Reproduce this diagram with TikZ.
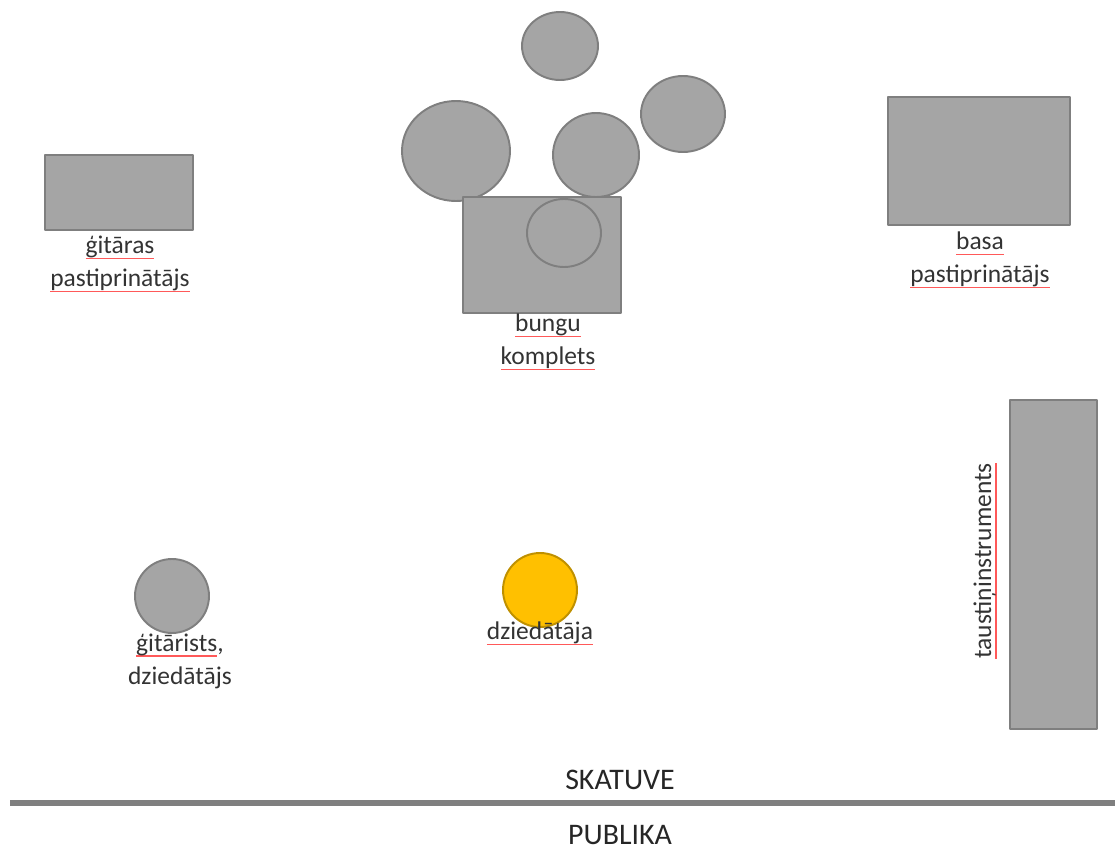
\documentclass[tikz,border=0pt]{standalone}
\usepackage{fontspec}
\setmainfont{Carlito}

\definecolor{propfill}{HTML}{A5A5A5}
\definecolor{propline}{HTML}{7F7F7F}
\definecolor{singfill}{HTML}{FFC000}
\definecolor{singline}{HTML}{BF9000}

% red spell-check style underline
\newcommand\spl[1]{\setbox0\hbox{#1}\rlap{\textcolor{red!65}{\rule[-0.45ex]{\wd0}{0.6pt}}}\box0}

\begin{document}
\begin{tikzpicture}[x=0.2mm,y=-0.2mm,line join=round]

    \tikzset{
        prop/.style={fill=propfill,draw=propline,line width=1.1pt},
        singer/.style={fill=singfill,draw=singline,line width=1.1pt},
        lbl/.style={align=center,text=black!80,font=\fontsize{14.5}{18.8}\selectfont},
        side/.style={text=black!85,font=\fontsize{17}{20}\selectfont}
    }

    \useasboundingbox (0,0) rectangle (1115,854);

    % guitar amp
    \filldraw[prop] (45,155) rectangle (193,230);
    \node[lbl] (gtramp) at (120,264) {\spl{ģitāras}\\ \spl{pastiprinātājs}};

    % drum kit
    \filldraw[prop] (560,46) ellipse (38 and 34);
    \filldraw[prop] (456,151) ellipse (54 and 50);
    \filldraw[prop] (596,155) ellipse (43 and 42);
    \filldraw[prop] (683,114) ellipse (42 and 38);
    \filldraw[prop] (463,197) rectangle (621,313);
    \filldraw[prop] (564,233) ellipse (37 and 34);
    \node[lbl] (drums) at (548,342) {\spl{bungu}\\ \spl{komplets}};

    % bass amp
    \filldraw[prop] (888,97) rectangle (1070,225);
    \node[lbl] (bassamp) at (980,260) {\spl{basa}\\ \spl{pastiprinātājs}};

    % keyboard
    \filldraw[prop] (1010,400) rectangle (1097,729);
    \node[lbl,rotate=90] (keys) at (985,561) {\spl{taustiņinstruments}};

    % guitarist and singer
    \filldraw[prop] (172,596) circle (37);
    \node[lbl] (guitarist) at (180,661) {\spl{ģitārists},\\ dziedātājs};

    \filldraw[singer] (540,590) circle (37);
    \node[lbl] (singer) at (540,633) {\spl{dziedātāja}};

    % stage edge
    \draw[propline,line width=3.4pt] (10,803) -- (1115,803);
    \node[side] (stage) at (620,780) {SKATUVE};
    \node[side] (audience) at (620,835) {PUBLIKA};

\end{tikzpicture}
\end{document}
